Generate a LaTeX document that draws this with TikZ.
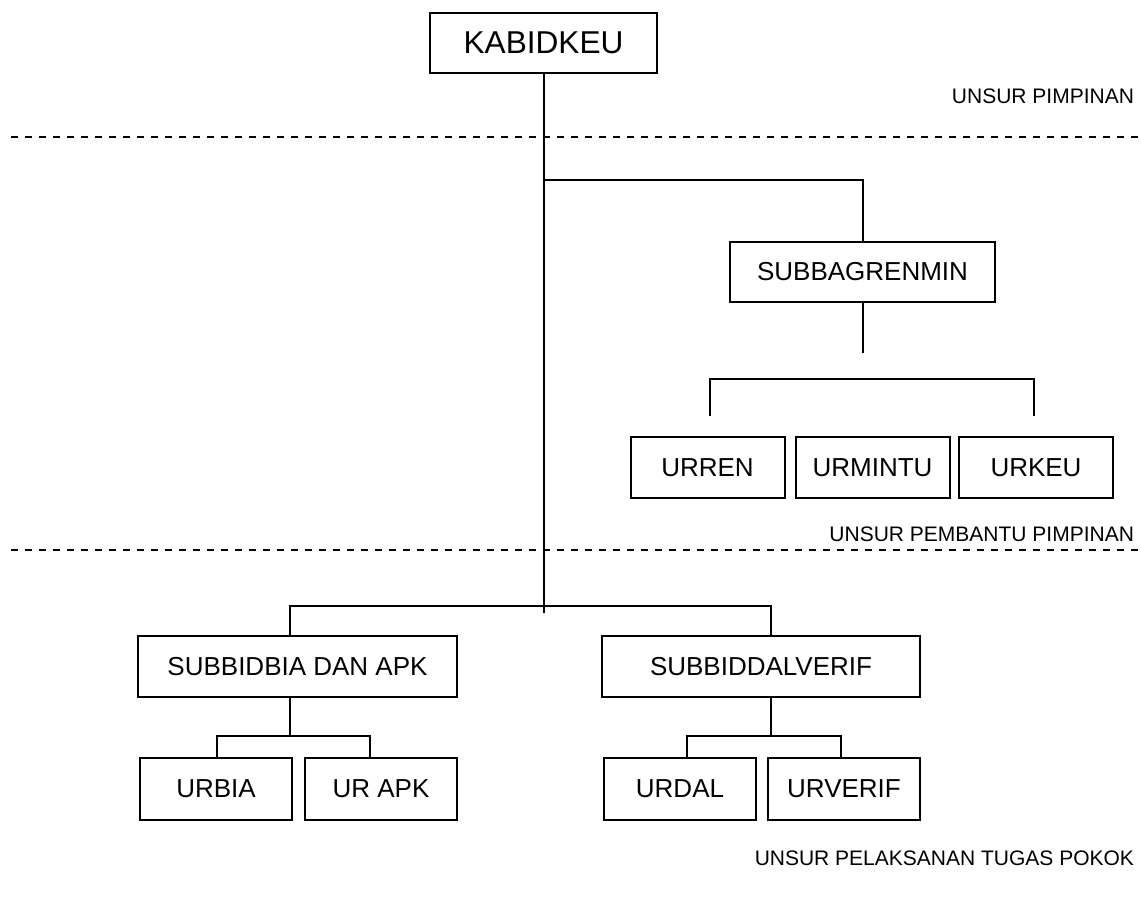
\documentclass[tikz,border=0pt]{standalone}
\usepackage{fontspec}
\setmainfont{Liberation Sans}
\begin{document}
\begin{tikzpicture}[x=0.75pt, y=-0.75pt, line width=1.5pt,
    unit/.style={draw, inner sep=0pt, outer sep=0pt, minimum height=45.75pt,
        font=\fontsize{19.5}{22}\selectfont},
    level/.style={anchor=east, inner sep=0pt, font=\fontsize{15.75}{18}\selectfont},
    divider/.style={dash pattern=on 5.25pt off 5.25pt}]
    \useasboundingbox (0,0) rectangle (1141,910);
    % pimpinan
    \node[unit, minimum width=170.25pt, minimum height=45pt,
        font=\fontsize{23.7}{26}\selectfont] (kabid) at (543.5,43) {KABIDKEU};
    \node[unit, minimum width=198.75pt, minimum height=45pt] (subbag) at (862.5,272) {SUBBAGRENMIN};
    \foreach \name/\txt/\cx in {urren/URREN/707.5, urmintu/URMINTU/872.5, urkeu/URKEU/1036}{
        \node[unit, minimum width=115.5pt] (\name) at (\cx,467.5) {\txt};
    };
    % pelaksana
    \node[unit, minimum width=239.25pt] (subbia) at (297.5,666.5) {SUBBIDBIA DAN APK};
    \node[unit, minimum width=238.5pt] (subdal) at (761,666.5) {SUBBIDDALVERIF};
    \foreach \name/\txt/\cx in {urbia/URBIA/216, urapk/UR APK/381, urdal/URDAL/680, urverif/URVERIF/844}{
        \node[unit, minimum width=114pt, minimum height=46.5pt] (\name) at (\cx,789) {\txt};
    };
    \node[level] (lvla) at (1135,96) {UNSUR PIMPINAN};
    \node[level] (lvlb) at (1135,534) {UNSUR PEMBANTU PIMPINAN};
    \node[level] (lvlc) at (1135,858) {UNSUR PELAKSANAN TUGAS POKOK};
    \draw[divider] (11,137) -- (1141,137);
    \draw[divider] (11,550) -- (1141,550);
    % garis komando
    \coordinate (jtop) at (543.5,180);
    \coordinate (jbot) at (543.5,613);
    \draw (kabid) -- (jbot);
    \draw (jtop) -| (subbag);
    \draw (subbag.south) -- ++(0,51);
    \draw (710,416) |- (1034,379) -- (1034,416);
    \coordinate (bl) at (290,606);
    \coordinate (br) at (771,606);
    \draw (subbia.north -| bl) -- (bl) -- (br) -- (br |- subdal.north);
    \foreach \top/\x/\l/\r in {subbia/290/217/370, subdal/771/687/841}{
        \draw (\top.south -| \x,0) -- (\x,736);
        \draw (\l,758) |- (\r,736) -- (\r,758);
    };
\end{tikzpicture}
\end{document}
